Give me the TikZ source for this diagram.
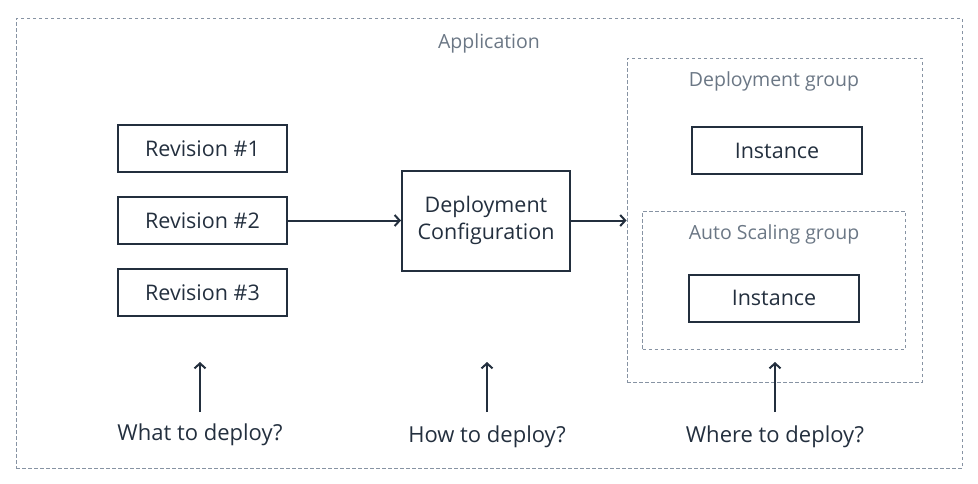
\documentclass[tikz,border=0pt]{standalone}
\usepackage{fontspec}
\setmainfont{Open Sans}
\usetikzlibrary{arrows.meta}
\definecolor{ink}{HTML}{232F3E}
\definecolor{dashc}{HTML}{8793A3}
\definecolor{lbl}{HTML}{6B7785}
\begin{document}
\begin{tikzpicture}[x=1pt,y=-1pt,
  box/.style={draw=ink,line width=2pt,inner sep=0pt,text=ink,font=\fontsize{21.5}{27}\selectfont,align=center},
  grp/.style={draw=dashc,line width=0.9pt,dash pattern=on 3.5pt off 2.5pt,inner sep=0pt},
  lab/.style={text=lbl,font=\fontsize{19.5}{24}\selectfont},
  qlab/.style={text=ink,font=\fontsize{22}{26}\selectfont,anchor=base},
  arr/.style={draw=ink,line width=2pt,-{Straight Barb[length=5pt,width=11pt,line width=2pt]}}]
\useasboundingbox (0,0) rectangle (978,483);
% groups
\node[grp,minimum width=946pt,minimum height=450pt] (app) at (489,243) {};
\node[lab] (applbl) at (489,43) {Application};
\node[grp,minimum width=295pt,minimum height=324pt] (dg) at (774.5,220) {};
\node[lab] (dglbl) at (774,81) {Deployment group};
\node[grp,minimum width=263pt,minimum height=138pt] (asg) at (774,280) {};
\node[lab] (asglbl) at (774,234) {Auto Scaling group};
% boxes
\node[box,minimum width=169pt,minimum height=47pt] (r1) at (202.5,148.5) {Revision \#1};
\node[box,minimum width=169pt,minimum height=47pt] (r2) at (202.5,220.5) {Revision \#2};
\node[box,minimum width=169pt,minimum height=47pt] (r3) at (202.5,292.5) {Revision \#3};
\node[box,minimum width=168pt,minimum height=100pt] (dc) at (486,220.5) {Deployment\\Configuration};
\node[box,minimum width=170pt,minimum height=47pt] (i1) at (777,150.5) {Instance};
\node[box,minimum width=170pt,minimum height=47pt] (i2) at (774,298) {Instance};
% connectors
\draw[arr] (r2.east) -- (dc.west |- r2.east);
\draw[arr] (dc.east) -- (dc.east -| dg.west);
% questions
\node[qlab] (q1) at (200,440) {What to deploy?};
\node[qlab] (q2) at (487,442) {How to deploy?};
\node[qlab] (q3) at (775,442) {Where to deploy?};
\coordinate (t1) at (200,362);
\coordinate (t2) at (487,362);
\coordinate (t3) at (775,362);
\coordinate (b1) at (200,412);
\coordinate (b2) at (487,412);
\coordinate (b3) at (775,412);
\draw[arr] (b1) -- (t1);
\draw[arr] (b2) -- (t2);
\draw[arr] (b3) -- (t3);
\end{tikzpicture}
\end{document}
